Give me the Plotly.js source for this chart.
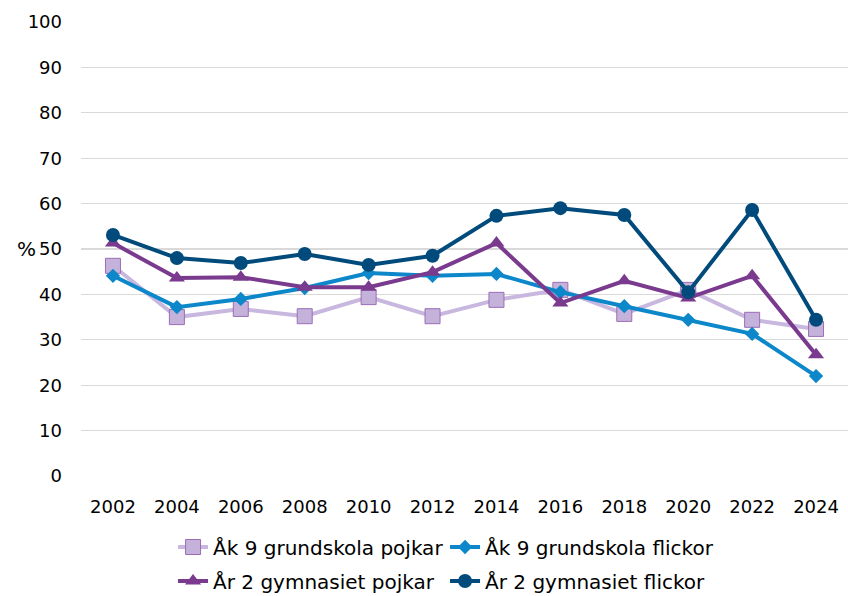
<!DOCTYPE html>
<html>
<head>
<meta charset="utf-8">
<script src="https://cdn.plot.ly/plotly-3.0.1.min.js"></script>
<style>html,body{margin:0;padding:0;background:#fff;}#chart{width:848px;height:596px;}</style>
</head>
<body>
<div id="chart"></div>
<script>
const years = ['2002','2004','2006','2008','2010','2012','2014','2016','2018','2020','2022','2024'];
const ak9Pojkar   = [46.3, 35.0, 36.8, 35.2, 39.4, 35.2, 38.8, 41.0, 35.7, 41.0, 34.4, 32.4];
const ak9Flickor  = [44.1, 37.2, 39.0, 41.4, 44.7, 44.1, 44.5, 40.5, 37.4, 34.4, 31.3, 22.0];
const ar2Pojkar   = [51.3, 43.6, 43.8, 41.6, 41.6, 44.9, 51.3, 38.1, 43.0, 39.2, 44.1, 26.7];
const ar2Flickor  = [53.1, 48.0, 46.9, 48.9, 46.5, 48.5, 57.3, 59.0, 57.5, 40.5, 58.6, 34.4];
const seriesNames = ['Åk 9 grundskola pojkar','Åk 9 grundskola flickor','År 2 gymnasiet pojkar','År 2 gymnasiet flickor'];
const yTicks = [0,10,20,30,40,50,60,70,80,90,100];

const FONT = 'DejaVu Sans, Verdana, sans-serif';

const traces = [
  {x: years, y: ak9Pojkar, name: seriesNames[0], type:'scatter', mode:'lines+markers', legend:'legend',
   line:{color:'#C8B7DF', width:4},
   marker:{symbol:'square', size:15, color:'#C4B2DA', line:{color:'#9C6DB6', width:1}}},
  {x: years, y: ak9Flickor, name: seriesNames[1], type:'scatter', mode:'lines+markers', legend:'legend',
   line:{color:'#0C87CA', width:4},
   marker:{symbol:'diamond', size:11, color:'#0C87CA'}},
  {x: years, y: ar2Pojkar, name: seriesNames[2], type:'scatter', mode:'lines+markers', legend:'legend2',
   line:{color:'#7A3A8E', width:4},
   marker:{symbol:'triangle-up', size:14, color:'#7A3A8E'}},
  {x: years, y: ar2Flickor, name: seriesNames[3], type:'scatter', mode:'lines+markers', legend:'legend2',
   line:{color:'#004B7B', width:4},
   marker:{symbol:'circle', size:14, color:'#004B7B'}}
];

const legendBase = {
  orientation:'h', x:0.12, xanchor:'left', yanchor:'middle',
  entrywidth: 227, entrywidthmode:'pixels', itemwidth:30,
  font:{family:FONT, size:20, color:'#000'}, traceorder:'normal', bgcolor:'rgba(0,0,0,0)'
};

const layout = {
  width: 848, height: 596,
  margin: {l:81, r:0, t:22, b:120, autoexpand:false},
  paper_bgcolor:'#fff', plot_bgcolor:'#fff',
  font: {family: FONT, size: 18, color:'#000'},
  showlegend: true,
  xaxis: {
    type:'category', range:[-0.5, 11.5],
    showgrid:false, zeroline:false, showline:false,
    ticks:'', ticklabelstandoff: 18, automargin:false,
    tickfont:{family:FONT, size:18, color:'#000'}
  },
  yaxis: {
    range:[0,100], tickvals: yTicks, ticktext: yTicks.map(String),
    showgrid:true, gridcolor:'#D9D9D9', gridwidth:1.3, automargin:false,
    zeroline:false, showline:false, ticks:'', ticklabelstandoff: 18,
    tickfont:{family:FONT, size:18, color:'#000'}
  },
  annotations: [
    {text:'%', xref:'paper', yref:'y', x:-0.056, y:50, showarrow:false,
     xanchor:'right', yanchor:'middle', font:{family:FONT, size:20, color:'#000'}}
  ],
  legend: Object.assign({}, legendBase, {y:-0.1564}),
  legend2: Object.assign({}, legendBase, {y:-0.2313})
};

Plotly.newPlot('chart', traces, layout, {displayModeBar:false, staticPlot:true});
</script>
</body>
</html>
